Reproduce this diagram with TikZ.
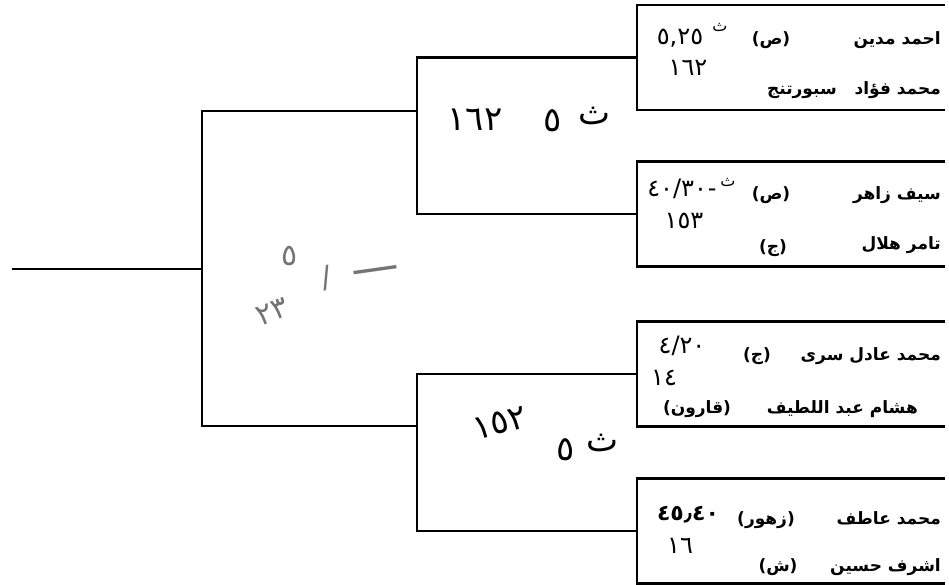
\documentclass[tikz,border=0pt]{standalone}
\usepackage{fontspec}
\TeXXeTstate=1
\newfontfamily\arabicfont[Script=Arabic]{DejaVu Sans}
\usetikzlibrary{positioning}
\tikzstyle{line} = [draw, line width=2.2pt]
\tikzstyle{player} = [rectangle, minimum width=308pt, minimum height=105pt, inner sep=0pt, outer sep=0pt]
\tikzstyle{pname} = [anchor=east, inner sep=0pt, font=\arabicfont\bfseries\fontsize{17}{19}\selectfont]
\tikzstyle{club} = [inner sep=0pt, font=\arabicfont\bfseries\fontsize{17}{19}\selectfont]
\tikzstyle{ink} = [inner sep=0pt, font=\arabicfont\fontsize{24}{26}\selectfont]
\tikzstyle{sup} = [inner sep=0pt, font=\arabicfont\fontsize{16}{16}\selectfont]
\tikzstyle{bigink} = [inner sep=0pt, font=\arabicfont\fontsize{34}{36}\selectfont]
\tikzstyle{pencil} = [inner sep=0pt, text=black!55, font=\arabicfont\fontsize{30}{32}\selectfont]

\begin{document}
\begin{tikzpicture}[x=1pt, y=-1pt]
		\useasboundingbox (0,0) rectangle (949,585);
		
		\node[player] (player_1) at (791,57.5) {};
		\node[player] (player_2) at (791,214) {};
		\node[player] (player_3) at (791,374) {};
		\node[player] (player_4) at (791,531) {};
		\foreach \p in {1,...,4}
			\path [line] (player_\p.north east) -- (player_\p.north west) -- (player_\p.south west) -- (player_\p.south east);
		
		\coordinate (match_1) at (417,111);
		\coordinate (match_2) at (417,426);
		\coordinate (final) at (202,269);
		\coordinate (start) at (12,269);
		
		\path [line] (player_1.west) -- (player_1.west -| match_1) -- (player_2.west -| match_1) -- (player_2.west);
		\path [line] (player_3.west) -- (player_3.west -| match_2) -- (player_4.west -| match_2) -- (player_4.west);
		\path [line] (match_1) -- (match_1 -| final) -- (match_2 -| final) -- (match_2);
		\path [line] (start) -- (final);
		
		
		\node [pname] (name_1a) at (941,40) {\beginR احمد مدين\endR};
		\node [club] (club_1a) at (771,40) {\beginR(ص)\endR};
		\node [ink] (time_1) at (680,38) {٥,٢٥};
		\node [sup] (sec_1) at (720,27) {ث};
		\node [ink] (score_1) at (688,68) {١٦٢};
		\node [pname] (name_1b) at (941,90) {\beginR محمد فؤاد\ \ \ سبورتنج\endR};
		
		\node [pname] (name_2a) at (941,195) {\beginR سيف زاهر\endR};
		\node [club] (club_2a) at (771,195) {\beginR(ص)\endR};
		\node [ink] (time_2) at (682,189) {٤٠/٣٠\kern1pt-};
		\node [sup] (sec_2) at (728,182) {ث};
		\node [ink] (score_2) at (684,221) {١٥٣};
		\node [pname] (name_2b) at (941,245) {\beginR تامر هلال\endR};
		\node [club] (club_2b) at (773,248) {\beginR(ج)\endR};
		
		\node [pname] (name_3a) at (941,356) {\beginR محمد عادل سرى\endR};
		\node [club] (club_3a) at (757,356) {\beginR(ج)\endR};
		\node [ink] (time_3) at (682,346) {٤/٢٠};
		\node [ink] (score_3) at (664,378) {١٤};
		\node [pname] (name_3b) at (918,409) {\beginR هشام عبد اللطيف\endR};
		\node [club] (club_3b) at (697,409) {\beginR(قارون)\endR};
		
		\node [pname] (name_4a) at (941,518) {\beginR محمد عاطف\endR};
		\node [club] (club_4a) at (766,520) {\beginR(زهور)\endR};
		\node [ink, font=\arabicfont\bfseries\fontsize{22}{24}\selectfont] (time_4) at (688,515) {٤٥٫٤٠};
		\node [ink] (score_4) at (680,546) {١٦};
		\node [pname] (name_4b) at (941,567) {\beginR اشرف حسين\endR};
		\node [club] (club_4b) at (778,567) {\beginR(ش)\endR};
		
		
		\node [bigink] (win_1) at (475,120) {١٦٢};
		\node [bigink] (five_1) at (553,121) {٥};
		\node [bigink] (sec_w1) at (594,116) {ث};
		
		\node [bigink, rotate=15] (win_2) at (500,423) {١٥٢};
		\node [bigink] (five_2) at (566,450) {٥};
		\node [bigink] (sec_w2) at (602,443) {ث};
		
		% pencil note
		\node [pencil] (note_a) at (290,256) {٥};
		\node [pencil, rotate=12] (note_b) at (326,278) {/};
		\node [pencil, font=\arabicfont\fontsize{48}{48}\selectfont, rotate=8] (note_c) at (376,276) {—};
		\node [pencil, rotate=20] (note_d) at (272,312) {٢٣};
\end{tikzpicture}
\end{document}
